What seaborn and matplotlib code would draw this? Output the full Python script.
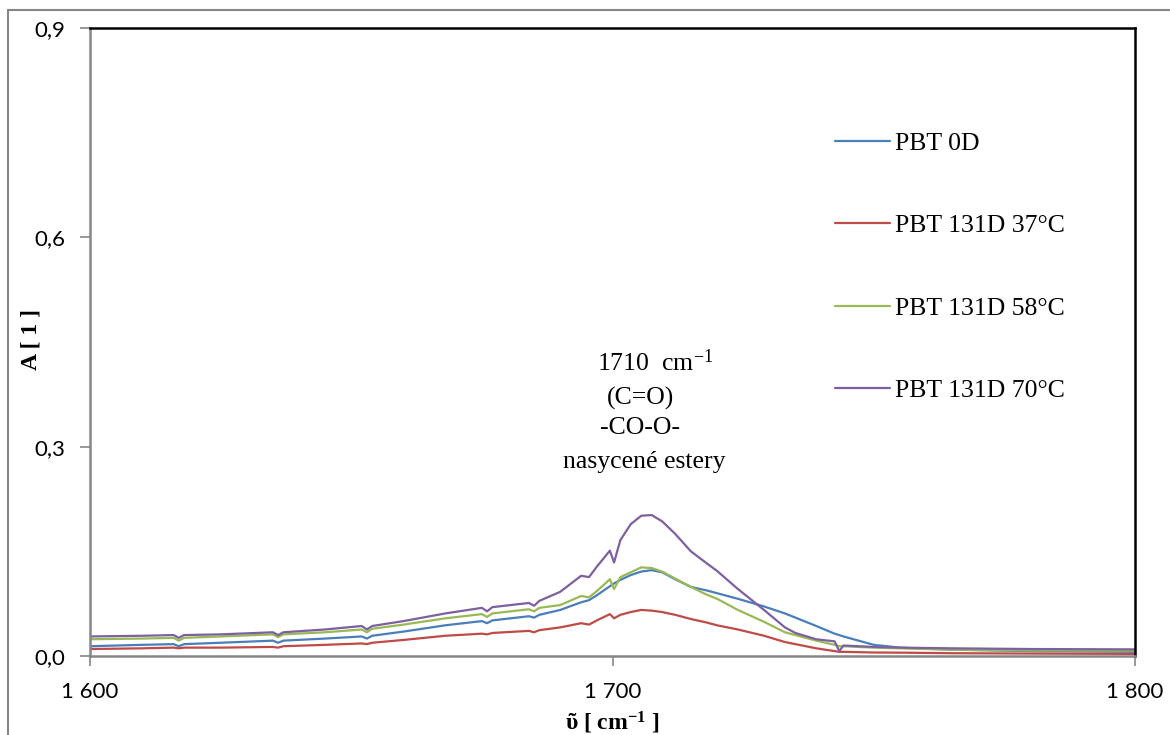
import matplotlib
matplotlib.use("Agg")
import matplotlib.pyplot as plt
import seaborn as sns
import pandas as pd
from matplotlib.lines import Line2D
from matplotlib.ticker import FuncFormatter

sns.set_style("white")
plt.rcParams["mathtext.fontset"] = "custom"
plt.rcParams["mathtext.rm"] = "Liberation Serif"
plt.rcParams["mathtext.it"] = "Liberation Serif:italic"
plt.rcParams["mathtext.bf"] = "Liberation Serif:bold"
plt.rcParams["text.color"] = "black"
plt.rcParams["axes.labelcolor"] = "black"
plt.rcParams["xtick.labelcolor"] = "black"
plt.rcParams["ytick.labelcolor"] = "black"

wavenumber = [1600, 1610, 1616, 1617, 1618, 1625, 1635, 1636, 1637, 1645, 1652, 1653, 1654,
              1660, 1668, 1675, 1676, 1677, 1684, 1685, 1686, 1690, 1694, 1695.5, 1697,
              1699.5, 1700.3, 1701.5, 1703.5, 1705.5, 1707.5, 1709.5, 1712, 1715, 1718,
              1720, 1724, 1729, 1733, 1735, 1739, 1742.5, 1743.4, 1744.2, 1750, 1755,
              1765, 1780, 1800]

pbt_0d = [0.014, 0.016, 0.017, 0.014, 0.017, 0.019, 0.022, 0.019, 0.022, 0.025, 0.028, 0.025, 0.029,
          0.035, 0.044, 0.050, 0.047, 0.051, 0.057, 0.055, 0.059, 0.066, 0.077, 0.080, 0.087,
          0.100, 0.104, 0.109, 0.116, 0.121, 0.123, 0.120, 0.110, 0.099, 0.094,
          0.090, 0.082, 0.071, 0.061, 0.055, 0.043, 0.032, 0.030, 0.028, 0.016, 0.012,
          0.009, 0.007, 0.006]

pbt_37 = [0.010, 0.011, 0.012, 0.011, 0.012, 0.012, 0.013, 0.012, 0.014, 0.016, 0.018, 0.017, 0.019,
          0.023, 0.029, 0.032, 0.031, 0.033, 0.036, 0.034, 0.037, 0.041, 0.047, 0.045, 0.051,
          0.060, 0.054, 0.059, 0.063, 0.066, 0.065, 0.063, 0.059, 0.053, 0.048,
          0.044, 0.038, 0.029, 0.020, 0.017, 0.011, 0.007, 0.006, 0.006, 0.005, 0.0048,
          0.004, 0.0035, 0.003]

pbt_58 = [0.024, 0.025, 0.026, 0.022, 0.026, 0.028, 0.031, 0.027, 0.031, 0.034, 0.038, 0.034, 0.039,
          0.045, 0.054, 0.060, 0.056, 0.061, 0.067, 0.064, 0.069, 0.073, 0.086, 0.084, 0.093,
          0.110, 0.096, 0.113, 0.120, 0.127, 0.126, 0.121, 0.111, 0.099, 0.088,
          0.082, 0.066, 0.049, 0.034, 0.030, 0.022, 0.016, 0.014, 0.014, 0.012, 0.011,
          0.009, 0.008, 0.0076]

pbt_70 = [0.028, 0.029, 0.030, 0.026, 0.030, 0.031, 0.034, 0.030, 0.034, 0.038, 0.043, 0.038, 0.043,
          0.050, 0.061, 0.069, 0.064, 0.070, 0.076, 0.072, 0.079, 0.092, 0.115, 0.113, 0.128,
          0.151, 0.134, 0.166, 0.189, 0.201, 0.202, 0.193, 0.175, 0.150, 0.133,
          0.122, 0.096, 0.066, 0.041, 0.033, 0.024, 0.021, 0.007, 0.015, 0.013, 0.012,
          0.011, 0.010, 0.0095]

series_names = ["PBT 0D", "PBT 131D 37°C", "PBT 131D 58°C", "PBT 131D 70°C"]
series_values = [pbt_0d, pbt_37, pbt_58, pbt_70]
colors = ["#4A7EBB", "#BE4B48", "#98B954", "#7D60A0"]

x_ticks = [1600, 1700, 1800]
y_ticks = [0.0, 0.3, 0.6, 0.9]

frames = []
for name, vals in zip(series_names, series_values):
    frames.append(pd.DataFrame({"x": wavenumber, "A": vals, "series": name}))
df = pd.concat(frames, ignore_index=True)

serif = ["Liberation Serif", "DejaVu Serif"]
tickfont = "Lato"

fig = plt.figure(figsize=(11.7, 7.35), dpi=100)
ax = fig.add_axes([90 / 1170, 1 - 656 / 735, 1045 / 1170, 628 / 735])

sns.lineplot(data=df, x="x", y="A", hue="series", hue_order=series_names,
             palette=colors, sort=False, linewidth=1.6, ax=ax, legend=True)

ax.set_xlim(1600, 1800)
ax.set_ylim(0, 0.9)
ax.set_xticks(x_ticks)
ax.set_yticks(y_ticks)
ax.xaxis.set_major_formatter(FuncFormatter(lambda v, p: f"{int(v):,}".replace(",", " ")))
ax.yaxis.set_major_formatter(FuncFormatter(lambda v, p: f"{v:.1f}".replace(".", ",")))
ax.tick_params(axis="both", direction="out", length=7, width=1.2, color="#868686",
               labelcolor="black", labelsize=16, bottom=True, left=True)
ax.tick_params(axis="x", pad=12)
ax.tick_params(axis="y", pad=11)
for lab in ax.get_xticklabels() + ax.get_yticklabels():
    lab.set_fontfamily(tickfont)

for s in ["left", "bottom"]:
    ax.spines[s].set_color("#868686")
    ax.spines[s].set_linewidth(1.8)
for s in ["top", "right"]:
    ax.spines[s].set_color("black")
    ax.spines[s].set_linewidth(1.8)

ax.set_xlabel("ῦ [ cm$^{\\mathbf{-1}}$ ]", fontsize=17, fontweight="bold", family=serif, color="black")
ax.set_ylabel("A [ 1 ]", fontsize=17, fontweight="bold", family=serif, color="black")
ax.xaxis.set_label_coords(522 / 1045, (656 - 710) / 628)
ax.yaxis.set_label_coords(-48 / 1045, (656 - 340) / 628)

handles, labels = ax.get_legend_handles_labels()
leg = ax.legend(handles, labels, loc="upper left", bbox_to_anchor=(0.713, 0.835),
                frameon=False, borderaxespad=0, borderpad=0, handlelength=2.15,
                handletextpad=0.2, labelspacing=2.32, prop={"family": serif, "size": 18.5})
for t in leg.get_texts():
    t.set_color("black")

ann_lines = [("1710  cm$^{-1}$", 655, 363), ("(C=O)", 640, 398),
             ("-CO-O-", 640, 428), ("nasycené estery", 644, 462)]
for txt, px, py in ann_lines:
    fig.text(px / 1170, 1 - py / 735, txt, ha="center", va="center",
             fontsize=18.5, family=serif, color="black")

# outer chart frame (top and left visible)
fig.add_artist(Line2D([8 / 1170, 1], [1 - 10 / 735, 1 - 10 / 735], transform=fig.transFigure,
                      color="#868686", linewidth=1.5))
fig.add_artist(Line2D([8 / 1170, 8 / 1170], [0, 1 - 10 / 735], transform=fig.transFigure,
                      color="#868686", linewidth=1.5))

fig.savefig("out.png", dpi=100)
